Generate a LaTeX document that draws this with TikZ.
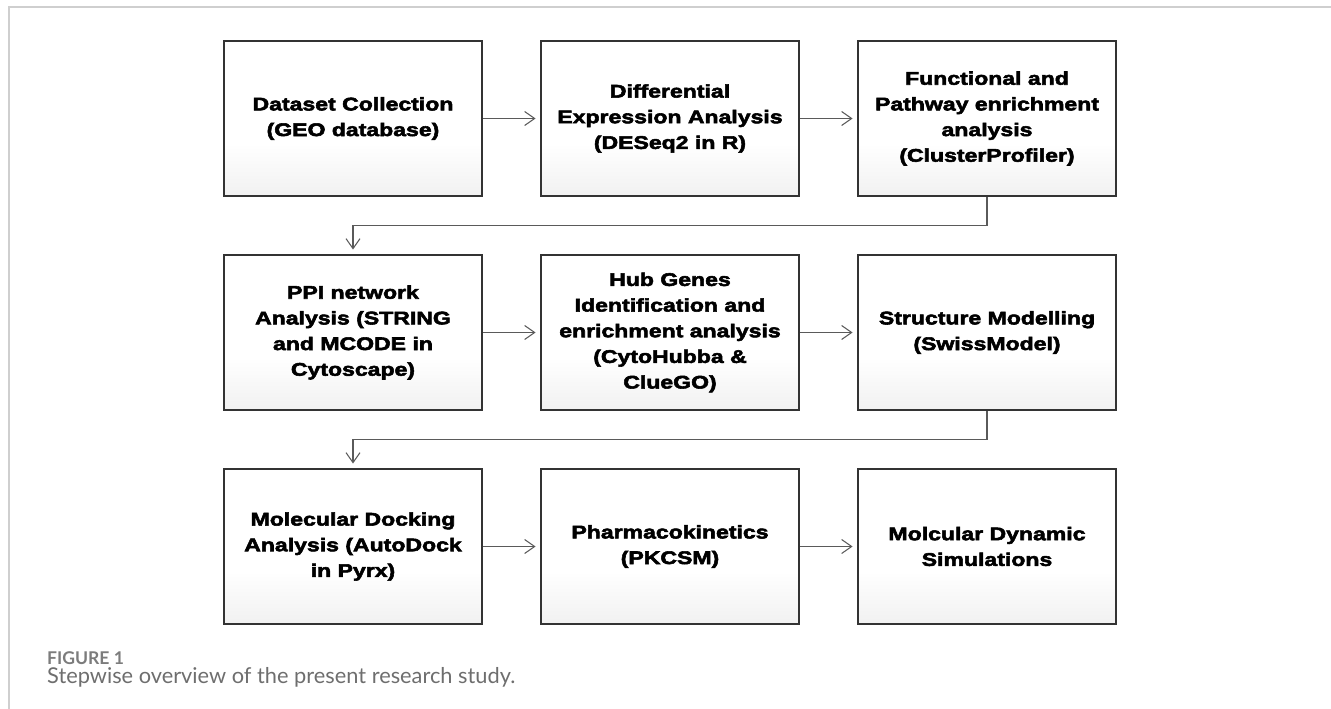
\documentclass[tikz,border=0pt]{standalone}
\usepackage{fontspec}
\usetikzlibrary{arrows.meta}
\newfontfamily\boxfont[FakeStretch=1.26,FakeBold=3]{Liberation Sans}
\newfontfamily\capfont{Lato}
\definecolor{edgegray}{HTML}{333333}
\definecolor{linkgray}{HTML}{5A5A5A}
\definecolor{framegray}{HTML}{CFCFCF}
\definecolor{capgray}{HTML}{6E6E6E}
% white box that fades to light grey near its bottom edge
\pgfdeclareverticalshading{stagefade}{100bp}{color(0bp)=(gray!11); color(25bp)=(gray!11);
  color(42bp)=(white); color(100bp)=(white)}
\begin{document}
\begin{tikzpicture}[
    stage/.style={draw=edgegray, line width=1.1pt, minimum width=5.16cm, minimum height=3.1cm,
      inner sep=0pt, align=center, shading=stagefade,
      font=\boxfont\bfseries\fontsize{10.4}{14.6}\selectfont},
    flow/.style={draw=linkgray, line width=0.6pt, shorten >=0.09cm,
      -{Straight Barb[length=0.2cm, width=0.28cm]}}
  ]
  \useasboundingbox (0,0) rectangle (26.62,-14.18);
  \draw[framegray, line width=0.6pt] (0.18,-14.18) -- (0.18,-0.14) -- (26.62,-0.14);
  \draw
    (7.06,-2.37) node[stage] (geo){Dataset Collection\\(GEO database)}
    (13.40,-2.37) node[stage] (deg){Differential\\Expression Analysis\\(DESeq2 in R)}
    (19.74,-2.37) node[stage] (fpe){Functional and\\Pathway enrichment\\analysis\\(ClusterProfiler)}
    (7.06,-6.65) node[stage] (ppi){PPI network\\Analysis (STRING\\and MCODE in\\Cytoscape)}
    (13.40,-6.65) node[stage] (hub){Hub Genes\\Identification and\\enrichment analysis\\(CytoHubba \&\\ClueGO)}
    (19.74,-6.65) node[stage] (sm){Structure Modelling\\(SwissModel)}
    (7.06,-10.93) node[stage] (dock){Molecular Docking\\Analysis (AutoDock\\in Pyrx)}
    (13.40,-10.93) node[stage] (pk){Pharmacokinetics\\(PKCSM)}
    (19.74,-10.93) node[stage] (md){Molcular Dynamic\\Simulations};
  \begin{scope}[flow]
    \draw (geo) to (deg);
    \draw (deg) to (fpe);
    \draw (fpe.south) -- ++(0,-0.58) -| (ppi.north);
    \draw (ppi) to (hub);
    \draw (hub) to (sm);
    \draw (sm.south) -- ++(0,-0.58) -| (dock.north);
    \draw (dock) to (pk);
    \draw (pk) to (md);
  \end{scope}
  \node[anchor=base west, text=capgray!90, font=\capfont\bfseries\fontsize{10}{12}\selectfont]
    (fig) at (0.82,-13.28) {FIGURE 1};
  \node[anchor=base west, text=capgray, font=\capfont\fontsize{12.4}{14}\selectfont]
    (cap) at (0.82,-13.66) {Stepwise overview of the present research study.};
\end{tikzpicture}
\end{document}
